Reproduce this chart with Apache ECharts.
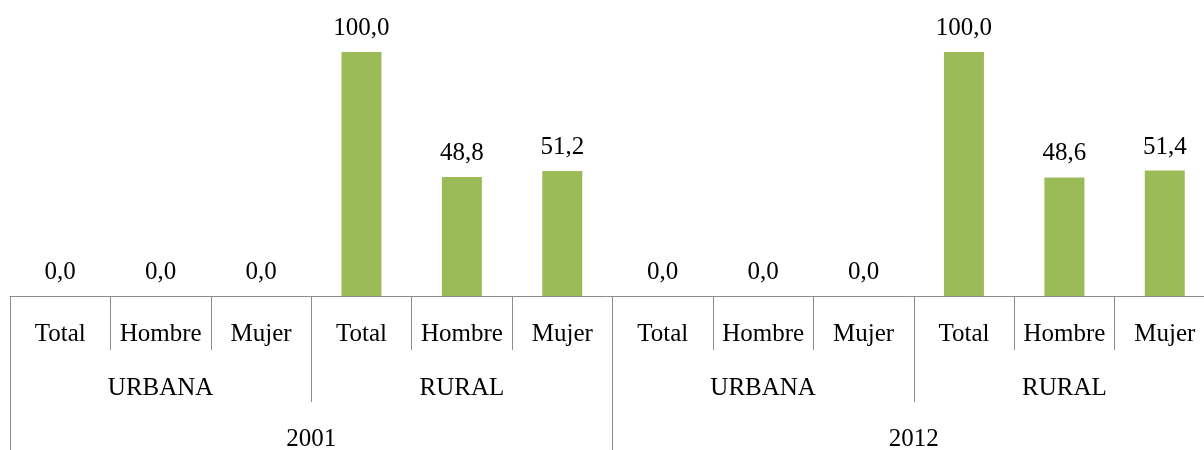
<!DOCTYPE html>
<html>
<head>
<meta charset="utf-8">
<script src="https://cdn.jsdelivr.net/npm/echarts@6/dist/echarts.min.js"></script>
<style>html,body{margin:0;padding:0;background:#fff;}#c{width:1204px;height:450px;}</style>
</head>
<body>
<div id="c"></div>
<script>
const sexLabels = ['Total','Hombre','Mujer','Total','Hombre','Mujer','Total','Hombre','Mujer','Total','Hombre','Mujer'];
const areaLabels = ['URBANA','RURAL','URBANA','RURAL'];
const yearLabels = ['2001','2012'];
const values = [0.0, 0.0, 0.0, 100.0, 48.8, 51.2, 0.0, 0.0, 0.0, 100.0, 48.6, 51.4];

const FONT = '"Liberation Serif", serif';
const tickColor = '#8c8c8c';

function lvlAxis(data, margin, tickLen, showLine) {
  return {
    type: 'category',
    data: data,
    position: 'bottom',
    boundaryGap: true,
    axisLine: { show: showLine, lineStyle: { color: tickColor, width: 1 } },
    axisTick: { show: true, interval: 0, length: tickLen, lineStyle: { color: tickColor, width: 1 } },
    axisLabel: { interval: 0, margin: margin, color: '#000', fontFamily: FONT, fontSize: 25, lineHeight: 26 },
    splitLine: { show: false }
  };
}

const chart = echarts.init(document.getElementById('c'), null, { renderer: 'canvas' });
chart.setOption({
  animation: false,
  grid: { left: 10, top: 52, width: 1205, bottom: 154, containLabel: false, outerBoundsMode: 'none' },
  xAxis: [
    lvlAxis(sexLabels, 25, 54, true),
    lvlAxis(areaLabels, 79, 106, false),
    lvlAxis(yearLabels, 130, 170, false)
  ],
  yAxis: { type: 'value', min: 0, max: 100, show: false, splitLine: { show: false } },
  series: [{
    type: 'bar',
    xAxisIndex: 0,
    data: values,
    barWidth: 40,
    itemStyle: { color: '#9BBB59' },
    label: {
      show: true,
      position: 'top',
      distance: 11,
      color: '#000',
      fontFamily: FONT,
      fontSize: 25,
      formatter: p => p.value.toFixed(1).replace('.', ',')
    }
  }]
});
</script>
</body>
</html>
